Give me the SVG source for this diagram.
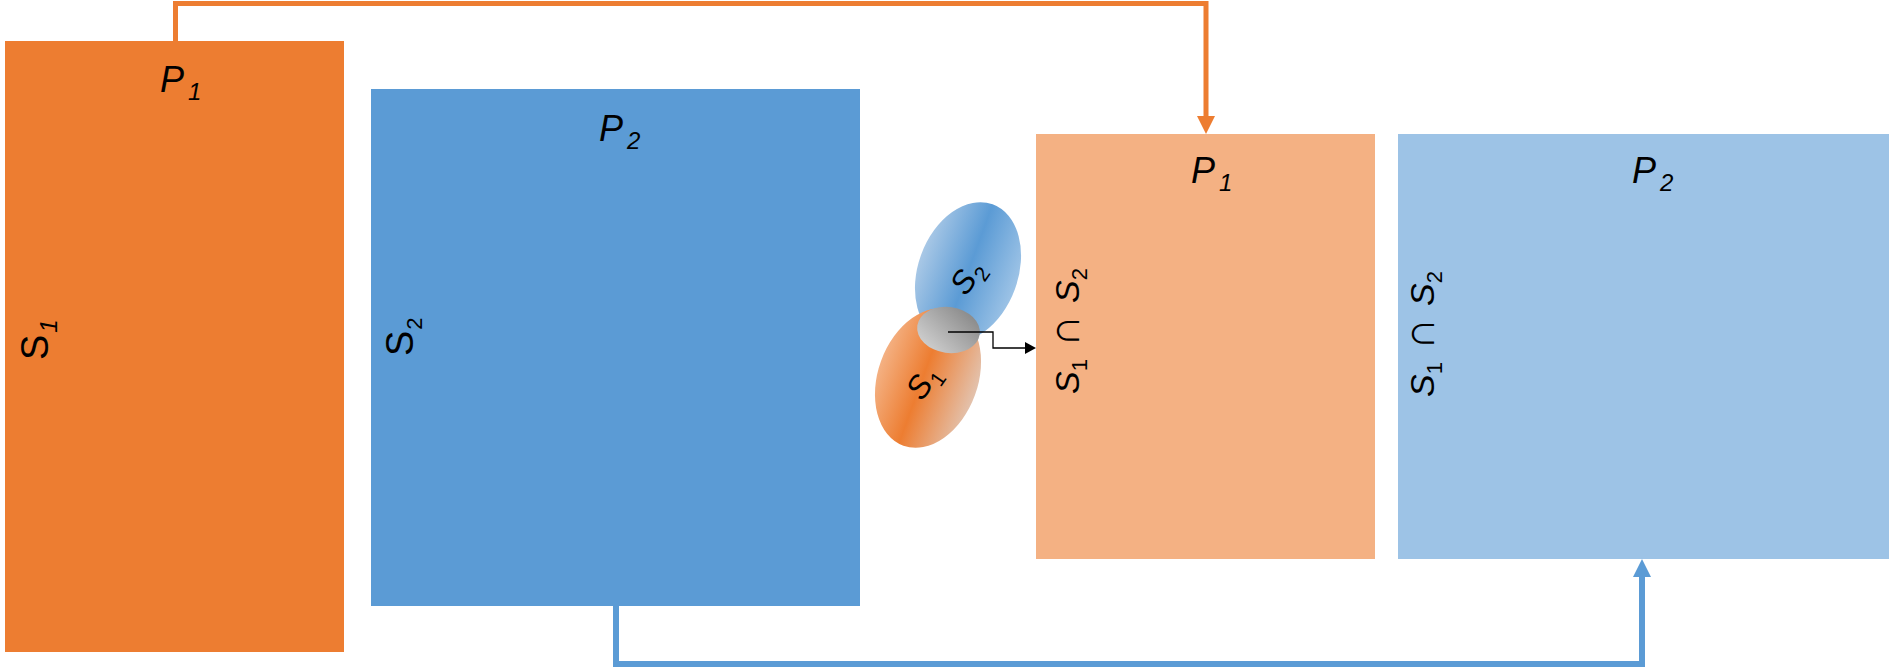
<svg xmlns="http://www.w3.org/2000/svg" width="1889" height="668" viewBox="0 0 1889 668">
<style>
.lbl{font-family:"Liberation Sans","DejaVu Sans",sans-serif;fill:#000}
.it{font-style:italic}
.conn{fill:none;stroke-linejoin:miter}
</style>
<defs>
<marker id="arrO" markerUnits="userSpaceOnUse" markerWidth="18" markerHeight="18" refX="0" refY="9" orient="auto"><path d="M0,0 L18,9 L0,18 z" fill="#ed7d31"/></marker>
<marker id="arrB" markerUnits="userSpaceOnUse" markerWidth="18" markerHeight="18" refX="0" refY="9" orient="auto"><path d="M0,0 L18,9 L0,18 z" fill="#5b9bd5"/></marker>
<marker id="arrK" markerUnits="userSpaceOnUse" markerWidth="12" markerHeight="12" refX="0" refY="6" orient="auto"><path d="M0,0 L11,6 L0,12 z" fill="#000"/></marker>
<linearGradient id="gB" x1="0" y1="0" x2="1" y2="0">
<stop offset="0" stop-color="#a9c8e6"/><stop offset="0.5" stop-color="#5b9bd5"/><stop offset="1" stop-color="#9dc3e6"/>
</linearGradient>
<linearGradient id="gO" x1="0" y1="0" x2="1" y2="0">
<stop offset="0" stop-color="#f4b183"/><stop offset="0.45" stop-color="#ed7d31"/><stop offset="1" stop-color="#e3c2ad"/>
</linearGradient>
<linearGradient id="gG" x1="1" y1="0" x2="0" y2="1">
<stop offset="0" stop-color="#7f7f7f"/><stop offset="1" stop-color="#d9d9d9"/>
</linearGradient>
</defs>

<g id="P1-big">
<rect x="5" y="41" width="339" height="611" fill="#ed7d31"/>
<text class="lbl it" x="160" y="92" font-size="36">P<tspan dx="4" dy="8" font-size="24">1</tspan></text>
<text class="lbl" transform="translate(48,360) rotate(-90)" font-size="38">S<tspan dx="2" dy="9" font-size="24" font-style="italic">1</tspan></text>
</g>

<g id="P2-big">
<rect x="371" y="89" width="489" height="517" fill="#5b9bd5"/>
<text class="lbl it" x="599" y="141" font-size="36">P<tspan dx="4" dy="8" font-size="24">2</tspan></text>
<text class="lbl" transform="translate(413,356) rotate(-90)" font-size="38">S<tspan dx="1" dy="9" font-size="22">2</tspan></text>
</g>

<g id="sets">
<ellipse cx="968" cy="272" rx="50" ry="72" transform="rotate(20 968 272)" fill="url(#gB)"/>
<ellipse cx="928" cy="378" rx="50" ry="72" transform="rotate(20 928 378)" fill="url(#gO)"/>
<ellipse cx="948.5" cy="330" rx="31.5" ry="23" transform="rotate(8 948.5 330)" fill="url(#gG)"/>
<text class="lbl it" transform="translate(966,297) rotate(-55)" font-size="32">S<tspan dx="1" dy="7" font-size="21" font-style="normal">2</tspan></text>
<text class="lbl it" transform="translate(922,402) rotate(-55)" font-size="32">S<tspan dx="1" dy="7" font-size="21" font-style="normal">1</tspan></text>
</g>

<g id="P1-light">
<rect x="1036" y="134" width="339" height="425" fill="#f4b183"/>
<text class="lbl it" x="1191" y="183" font-size="36">P<tspan dx="4" dy="8" font-size="24">1</tspan></text>
<text class="lbl" transform="translate(1079,394) rotate(-90)" font-size="34"><tspan class="it">S</tspan><tspan dy="8" font-size="22">1</tspan><tspan dy="-8" font-size="44"> ∩ </tspan><tspan class="it">S</tspan><tspan dy="8" font-size="22">2</tspan></text>
</g>

<g id="P2-light">
<rect x="1398" y="134" width="491" height="425" fill="#9dc3e6"/>
<text class="lbl it" x="1632" y="183" font-size="36">P<tspan dx="4" dy="8" font-size="24">2</tspan></text>
<text class="lbl" transform="translate(1434,397) rotate(-90)" font-size="34"><tspan class="it">S</tspan><tspan dy="8" font-size="22">1</tspan><tspan dy="-8" font-size="44"> ∩ </tspan><tspan class="it">S</tspan><tspan dy="8" font-size="22">2</tspan></text>
</g>

<g id="connectors">
<path class="conn" d="M175.5,41 V3.5 H1206 V116" stroke="#ed7d31" stroke-width="5" marker-end="url(#arrO)"/>
<path class="conn" d="M616,606 V664 H1642 V577" stroke="#5b9bd5" stroke-width="6" marker-end="url(#arrB)"/>
<path class="conn" d="M948,332 H993 V348 H1025" stroke="#000" stroke-width="1.3" marker-end="url(#arrK)"/>
</g>
</svg>
